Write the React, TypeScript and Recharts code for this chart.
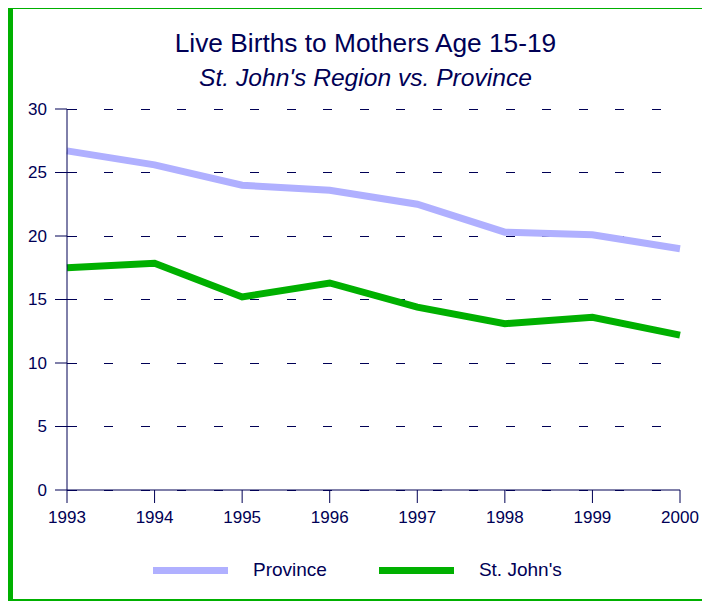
import React from "react";
import { LineChart, Line, XAxis, YAxis, CartesianGrid, Legend } from "recharts";

const years = ["1993", "1994", "1995", "1996", "1997", "1998", "1999", "2000"];
const province = [26.7, 25.6, 24.0, 23.6, 22.5, 20.3, 20.1, 19.0];
const stJohns = [17.5, 17.85, 15.2, 16.3, 14.4, 13.1, 13.6, 12.2];
const yTicks = [0, 5, 10, 15, 20, 25, 30];

const data = years.map((year, i) => ({
  year,
  province: province[i],
  stJohns: stJohns[i],
}));

const NAVY = "#000055";
const GREEN = "#00b000";
const LAVENDER = "#b0b0ff";
const FONT = "'Liberation Sans', Arial, sans-serif";

// gap before first dash, then 16 short dashes
const gridDash = "0 37 " + Array(16).fill("9 27.5").join(" ");

const YTick = (props: any) => {
  const { x, y, payload } = props;
  const axisX = x + 20;
  return (
    <g>
      <line x1={axisX} x2={axisX + 10} y1={y} y2={y} stroke={NAVY} shapeRendering="crispEdges" />
      <text x={x} y={y} dy="0.35em" textAnchor="end" fill={NAVY} fontSize={17} fontFamily={FONT}>
        {payload.value}
      </text>
    </g>
  );
};

const LegendContent = (props: any) => {
  const { payload } = props;
  return (
    <div style={{ display: "flex", alignItems: "center", fontFamily: FONT, fontSize: 19, color: NAVY }}>
      {payload.map((item: any) => (
        <div key={item.value} style={{ display: "flex", alignItems: "center", marginRight: 52 }}>
          <div style={{ width: 75, height: 7, background: item.color, marginRight: 25 }} />
          <span>{item.value}</span>
        </div>
      ))}
    </div>
  );
};

export default function App() {
  return (
    <div
      style={{
        position: "relative",
        marginTop: -4,
        width: 701,
        height: 600,
        boxSizing: "border-box",
        border: `5px solid ${GREEN}`,
        background: "#fff",
        fontFamily: FONT,
      }}
    >
      <div
        style={{
          position: "absolute",
          left: 7,
          top: 19,
          width: 691,
          textAlign: "center",
          color: NAVY,
          fontSize: 26.3,
          lineHeight: "30px",
        }}
      >
        Live Births to Mothers Age 15-19
      </div>
      <div
        style={{
          position: "absolute",
          left: 7,
          top: 54,
          width: 691,
          textAlign: "center",
          color: NAVY,
          fontSize: 24.6,
          fontStyle: "italic",
          lineHeight: "30px",
        }}
      >
        St. John's Region vs. Province
      </div>
      <LineChart
        width={691}
        height={587}
        data={data}
        margin={{ top: 100, right: 24, left: 0, bottom: 66 }}
      >
        <CartesianGrid
          horizontal
          vertical={false}
          stroke={NAVY}
          strokeDasharray={gridDash}
          shapeRendering="crispEdges"
        />
        <XAxis
          dataKey="year"
          height={40}
          stroke={NAVY}
          tickSize={13}
          tickMargin={8}
          tick={{ fill: NAVY, fontSize: 17, fontFamily: FONT }}
        />
        <YAxis
          width={54}
          domain={[0, 30]}
          ticks={yTicks}
          stroke={NAVY}
          tickSize={12}
          tickMargin={8}
          tick={<YTick />}
        />
        <Line
          dataKey="province"
          name="Province"
          stroke={LAVENDER}
          strokeWidth={7}
          dot={false}
          isAnimationActive={false}
          strokeLinejoin="miter"
        />
        <Line
          dataKey="stJohns"
          name="St. John's"
          stroke={GREEN}
          strokeWidth={7}
          dot={false}
          isAnimationActive={false}
          strokeLinejoin="miter"
        />
        <Legend
          layout="horizontal"
          verticalAlign="middle"
          align="center"
          content={<LegendContent />}
          wrapperStyle={{ left: 140, top: 550, width: 500, height: 22 }}
        />
      </LineChart>
    </div>
  );
}
